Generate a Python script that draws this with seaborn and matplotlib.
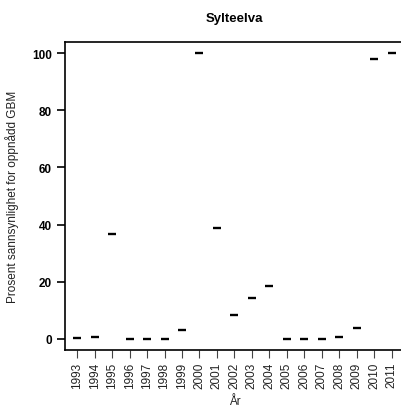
import matplotlib
matplotlib.use('Agg')
import matplotlib.pyplot as plt
import seaborn as sns
import pandas as pd

years = list(range(1993, 2012))
prosent = [0.2, 0.6, 36.6, 0, 0, 0, 2.9, 100, 38.9, 8.3, 14.4, 18.5,
           0, 0, 0, 0.6, 3.7, 98.1, 100]

df = pd.DataFrame({'aar': years, 'prosent': prosent})

sns.set_style('white')
plt.rcParams['font.family'] = ['Liberation Sans', 'DejaVu Sans']
plt.rcParams['text.color'] = 'black'

fig = plt.figure(figsize=(4.01, 4.10), dpi=100)
ax = fig.add_axes([0.162, 0.144, 0.845, 0.751])

sns.scatterplot(data=df, x='aar', y='prosent', marker='_', s=40,
                color='black', linewidth=1.7, ax=ax, legend=False)

ax.set_xlim(1992.3, 2011.7)
ax.set_ylim(-4, 104)
ax.set_xticks(years)
ax.set_xticklabels([str(y) for y in years], rotation=90, fontsize=8.5,
                   color='#222222')
ax.set_yticks([0, 20, 40, 60, 80, 100])
ax.set_yticklabels(['0', '20', '40', '60', '80', '100'], fontsize=8.5,
                   fontweight='bold', color='black')
ax.tick_params(axis='y', length=5.5, width=1.2, color='black', pad=4, left=True)
ax.tick_params(axis='x', length=5.5, width=0.8, color='#444444', pad=3, bottom=True)

for s in ['left', 'top', 'bottom']:
    ax.spines[s].set_color('black')
    ax.spines[s].set_linewidth(1.2)
ax.spines['right'].set_visible(False)

ax.set_xlabel('År', fontsize=8.5, labelpad=5, color='#222222')
ax.set_ylabel('Prosent sannsynlighet for oppnådd GBM', fontsize=8.5,
              labelpad=9, color='#222222')
ax.set_title('Sylteelva', fontsize=9.5, fontweight='bold', pad=15,
             color='black')

fig.savefig('out.png', dpi=100)
